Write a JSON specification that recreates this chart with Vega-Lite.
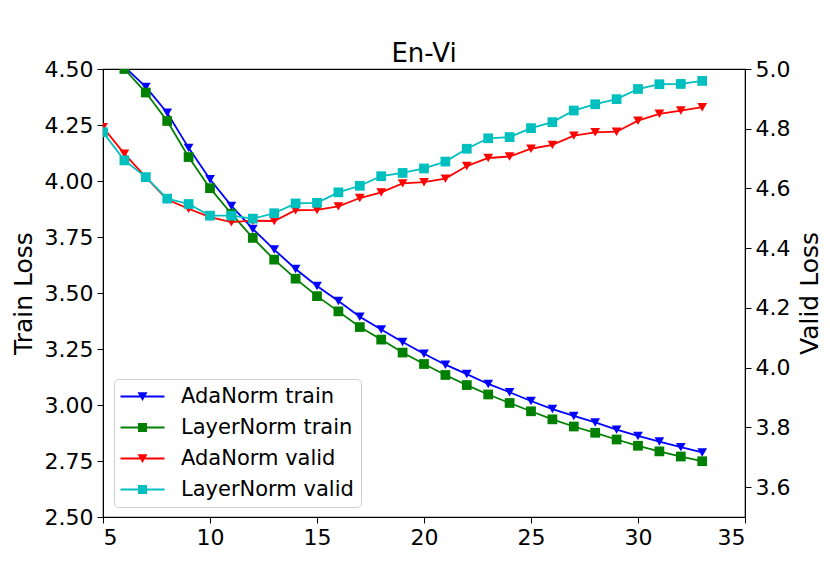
{
  "$schema": "https://vega.github.io/schema/vega-lite/v6.json",
  "width": 642,
  "height": 448,
  "autosize": {"type": "none"},
  "padding": {"left": 103, "top": 69, "right": 85, "bottom": 64},
  "background": "white",
  "title": {"text": "En-Vi", "fontSize": 26, "font": "DejaVu Sans", "fontWeight": "normal", "color": "black", "offset": 2, "dy": 11},
  "config": {
    "view": {"stroke": "black", "strokeWidth": 1.2},
    "font": "DejaVu Sans",
    "axis": {
      "grid": false,
      "domainColor": "black",
      "tickColor": "black",
      "labelColor": "black",
      "titleColor": "black",
      "labelFont": "DejaVu Sans",
      "titleFont": "DejaVu Sans",
      "labelFontSize": 22,
      "titleFontSize": 25,
      "titleFontWeight": "normal",
      "tickSize": 6,
      "labelPadding": 4
    },
    "legend": {
      "orient": "none",
      "legendX": 11,
      "legendY": 310,
      "strokeColor": "#d0d0d0",
      "fillColor": "rgba(255,255,255,0.85)",
      "cornerRadius": 4,
      "padding": 7,
      "labelFont": "DejaVu Sans",
      "labelFontSize": 21,
      "labelColor": "black",
      "labelLimit": 400,
      "labelOffset": 28,
      "symbolOffset": 11,
      "rowPadding": 9,
      "symbolStrokeWidth": 0
    }
  },
  "data": {
    "values": [
      {"epoch": 6, "series": "AdaNorm train", "loss": 4.51},
      {"epoch": 7, "series": "AdaNorm train", "loss": 4.42},
      {"epoch": 8, "series": "AdaNorm train", "loss": 4.305},
      {"epoch": 9, "series": "AdaNorm train", "loss": 4.148},
      {"epoch": 10, "series": "AdaNorm train", "loss": 4.008},
      {"epoch": 11, "series": "AdaNorm train", "loss": 3.889},
      {"epoch": 12, "series": "AdaNorm train", "loss": 3.786},
      {"epoch": 13, "series": "AdaNorm train", "loss": 3.694},
      {"epoch": 14, "series": "AdaNorm train", "loss": 3.607},
      {"epoch": 15, "series": "AdaNorm train", "loss": 3.531},
      {"epoch": 16, "series": "AdaNorm train", "loss": 3.464},
      {"epoch": 17, "series": "AdaNorm train", "loss": 3.394},
      {"epoch": 18, "series": "AdaNorm train", "loss": 3.337},
      {"epoch": 19, "series": "AdaNorm train", "loss": 3.281},
      {"epoch": 20, "series": "AdaNorm train", "loss": 3.229},
      {"epoch": 21, "series": "AdaNorm train", "loss": 3.18},
      {"epoch": 22, "series": "AdaNorm train", "loss": 3.138},
      {"epoch": 23, "series": "AdaNorm train", "loss": 3.094},
      {"epoch": 24, "series": "AdaNorm train", "loss": 3.057},
      {"epoch": 25, "series": "AdaNorm train", "loss": 3.018},
      {"epoch": 26, "series": "AdaNorm train", "loss": 2.982},
      {"epoch": 27, "series": "AdaNorm train", "loss": 2.951},
      {"epoch": 28, "series": "AdaNorm train", "loss": 2.922},
      {"epoch": 29, "series": "AdaNorm train", "loss": 2.89},
      {"epoch": 30, "series": "AdaNorm train", "loss": 2.862},
      {"epoch": 31, "series": "AdaNorm train", "loss": 2.837},
      {"epoch": 32, "series": "AdaNorm train", "loss": 2.812},
      {"epoch": 33, "series": "AdaNorm train", "loss": 2.788},

      {"epoch": 6, "series": "LayerNorm train", "loss": 4.5},
      {"epoch": 7, "series": "LayerNorm train", "loss": 4.395},
      {"epoch": 8, "series": "LayerNorm train", "loss": 4.268},
      {"epoch": 9, "series": "LayerNorm train", "loss": 4.107},
      {"epoch": 10, "series": "LayerNorm train", "loss": 3.968},
      {"epoch": 11, "series": "LayerNorm train", "loss": 3.854},
      {"epoch": 12, "series": "LayerNorm train", "loss": 3.746},
      {"epoch": 13, "series": "LayerNorm train", "loss": 3.649},
      {"epoch": 14, "series": "LayerNorm train", "loss": 3.564},
      {"epoch": 15, "series": "LayerNorm train", "loss": 3.486},
      {"epoch": 16, "series": "LayerNorm train", "loss": 3.418},
      {"epoch": 17, "series": "LayerNorm train", "loss": 3.348},
      {"epoch": 18, "series": "LayerNorm train", "loss": 3.292},
      {"epoch": 19, "series": "LayerNorm train", "loss": 3.234},
      {"epoch": 20, "series": "LayerNorm train", "loss": 3.183},
      {"epoch": 21, "series": "LayerNorm train", "loss": 3.134},
      {"epoch": 22, "series": "LayerNorm train", "loss": 3.089},
      {"epoch": 23, "series": "LayerNorm train", "loss": 3.047},
      {"epoch": 24, "series": "LayerNorm train", "loss": 3.009},
      {"epoch": 25, "series": "LayerNorm train", "loss": 2.972},
      {"epoch": 26, "series": "LayerNorm train", "loss": 2.936},
      {"epoch": 27, "series": "LayerNorm train", "loss": 2.904},
      {"epoch": 28, "series": "LayerNorm train", "loss": 2.876},
      {"epoch": 29, "series": "LayerNorm train", "loss": 2.846},
      {"epoch": 30, "series": "LayerNorm train", "loss": 2.818},
      {"epoch": 31, "series": "LayerNorm train", "loss": 2.793},
      {"epoch": 32, "series": "LayerNorm train", "loss": 2.77},
      {"epoch": 33, "series": "LayerNorm train", "loss": 2.749},

      {"epoch": 5, "series": "AdaNorm valid", "loss": 4.805},
      {"epoch": 6, "series": "AdaNorm valid", "loss": 4.716},
      {"epoch": 7, "series": "AdaNorm valid", "loss": 4.638},
      {"epoch": 8, "series": "AdaNorm valid", "loss": 4.563},
      {"epoch": 9, "series": "AdaNorm valid", "loss": 4.532},
      {"epoch": 10, "series": "AdaNorm valid", "loss": 4.504},
      {"epoch": 11, "series": "AdaNorm valid", "loss": 4.487},
      {"epoch": 12, "series": "AdaNorm valid", "loss": 4.492},
      {"epoch": 13, "series": "AdaNorm valid", "loss": 4.491},
      {"epoch": 14, "series": "AdaNorm valid", "loss": 4.527},
      {"epoch": 15, "series": "AdaNorm valid", "loss": 4.528},
      {"epoch": 16, "series": "AdaNorm valid", "loss": 4.54},
      {"epoch": 17, "series": "AdaNorm valid", "loss": 4.568},
      {"epoch": 18, "series": "AdaNorm valid", "loss": 4.587},
      {"epoch": 19, "series": "AdaNorm valid", "loss": 4.617},
      {"epoch": 20, "series": "AdaNorm valid", "loss": 4.621},
      {"epoch": 21, "series": "AdaNorm valid", "loss": 4.633},
      {"epoch": 22, "series": "AdaNorm valid", "loss": 4.675},
      {"epoch": 23, "series": "AdaNorm valid", "loss": 4.702},
      {"epoch": 24, "series": "AdaNorm valid", "loss": 4.707},
      {"epoch": 25, "series": "AdaNorm valid", "loss": 4.733},
      {"epoch": 26, "series": "AdaNorm valid", "loss": 4.746},
      {"epoch": 27, "series": "AdaNorm valid", "loss": 4.777},
      {"epoch": 28, "series": "AdaNorm valid", "loss": 4.788},
      {"epoch": 29, "series": "AdaNorm valid", "loss": 4.79},
      {"epoch": 30, "series": "AdaNorm valid", "loss": 4.827},
      {"epoch": 31, "series": "AdaNorm valid", "loss": 4.85},
      {"epoch": 32, "series": "AdaNorm valid", "loss": 4.861},
      {"epoch": 33, "series": "AdaNorm valid", "loss": 4.872},

      {"epoch": 5, "series": "LayerNorm valid", "loss": 4.788},
      {"epoch": 6, "series": "LayerNorm valid", "loss": 4.694},
      {"epoch": 7, "series": "LayerNorm valid", "loss": 4.638},
      {"epoch": 8, "series": "LayerNorm valid", "loss": 4.566},
      {"epoch": 9, "series": "LayerNorm valid", "loss": 4.548},
      {"epoch": 10, "series": "LayerNorm valid", "loss": 4.509},
      {"epoch": 11, "series": "LayerNorm valid", "loss": 4.509},
      {"epoch": 12, "series": "LayerNorm valid", "loss": 4.499},
      {"epoch": 13, "series": "LayerNorm valid", "loss": 4.517},
      {"epoch": 14, "series": "LayerNorm valid", "loss": 4.55},
      {"epoch": 15, "series": "LayerNorm valid", "loss": 4.552},
      {"epoch": 16, "series": "LayerNorm valid", "loss": 4.587},
      {"epoch": 17, "series": "LayerNorm valid", "loss": 4.609},
      {"epoch": 18, "series": "LayerNorm valid", "loss": 4.641},
      {"epoch": 19, "series": "LayerNorm valid", "loss": 4.652},
      {"epoch": 20, "series": "LayerNorm valid", "loss": 4.667},
      {"epoch": 21, "series": "LayerNorm valid", "loss": 4.69},
      {"epoch": 22, "series": "LayerNorm valid", "loss": 4.733},
      {"epoch": 23, "series": "LayerNorm valid", "loss": 4.768},
      {"epoch": 24, "series": "LayerNorm valid", "loss": 4.772},
      {"epoch": 25, "series": "LayerNorm valid", "loss": 4.802},
      {"epoch": 26, "series": "LayerNorm valid", "loss": 4.822},
      {"epoch": 27, "series": "LayerNorm valid", "loss": 4.861},
      {"epoch": 28, "series": "LayerNorm valid", "loss": 4.882},
      {"epoch": 29, "series": "LayerNorm valid", "loss": 4.899},
      {"epoch": 30, "series": "LayerNorm valid", "loss": 4.933},
      {"epoch": 31, "series": "LayerNorm valid", "loss": 4.949},
      {"epoch": 32, "series": "LayerNorm valid", "loss": 4.95},
      {"epoch": 33, "series": "LayerNorm valid", "loss": 4.96}
    ]
  },
  "encoding": {
    "x": {
      "field": "epoch",
      "type": "quantitative",
      "title": null,
      "scale": {"domain": [5, 35], "nice": false},
      "axis": {"values": [5, 10, 15, 20, 25, 30, 35], "format": "d"}
    },
    "color": {
      "field": "series",
      "type": "nominal",
      "scale": {
        "domain": ["AdaNorm train", "LayerNorm train", "AdaNorm valid", "LayerNorm valid"],
        "range": ["#0000ff", "#008000", "#ff0000", "#00bfbf"]
      },
      "legend": {
        "title": null,
        "encode": {
          "symbols": {
            "update": {
              "shape": {"signal": "indexof(datum.value, 'AdaNorm') == 0 ? 'M-2.2,-0.1H2.2V0.1H-2.2Z M-0.5,-0.42L0.5,-0.42L0,0.45Z' : 'M-2.2,-0.1H2.2V0.1H-2.2Z M-0.45,-0.45H0.45V0.45H-0.45Z'"},
              "size": {"value": 400},
              "fill": {"scale": "color", "field": "value"},
              "stroke": {"value": "transparent"},
              "opacity": {"value": 1}
            }
          }
        }
      }
    }
  },
  "layer": [
    {
      "transform": [{"filter": "indexof(datum.series, 'train') >= 0"}],
      "encoding": {
        "y": {
          "field": "loss",
          "type": "quantitative",
          "title": "Train Loss",
          "scale": {"domain": [2.5, 4.5], "nice": false, "zero": false},
          "axis": {"values": [2.5, 2.75, 3.0, 3.25, 3.5, 3.75, 4.0, 4.25, 4.5], "format": ".2f", "titlePadding": 8}
        }
      },
      "layer": [
        {"mark": {"type": "line", "strokeWidth": 1.8, "clip": true}},
        {
          "mark": {"type": "point", "filled": true, "opacity": 1, "clip": true},
          "encoding": {
            "shape": {
              "field": "series",
              "type": "nominal",
              "scale": {"domain": ["AdaNorm train", "LayerNorm train"], "range": ["triangle-down", "square"]},
              "legend": null
            },
            "size": {"value": 95}
          }
        }
      ]
    },
    {
      "transform": [{"filter": "indexof(datum.series, 'valid') >= 0"}],
      "encoding": {
        "y": {
          "field": "loss",
          "type": "quantitative",
          "title": "Valid Loss",
          "scale": {"domain": [3.5, 5.0], "nice": false, "zero": false},
          "axis": {"orient": "right", "values": [3.6, 3.8, 4.0, 4.2, 4.4, 4.6, 4.8, 5.0], "format": ".1f", "titlePadding": 8, "titleAngle": 270, "titleBaseline": "top"}
        }
      },
      "layer": [
        {"mark": {"type": "line", "strokeWidth": 1.8, "clip": true}},
        {
          "mark": {"type": "point", "filled": true, "opacity": 1, "clip": true},
          "encoding": {
            "shape": {
              "field": "series",
              "type": "nominal",
              "scale": {"domain": ["AdaNorm valid", "LayerNorm valid"], "range": ["triangle-down", "square"]},
              "legend": null
            },
            "size": {"value": 95}
          }
        }
      ]
    }
  ],
  "resolve": {"scale": {"y": "independent", "shape": "independent"}}
}
